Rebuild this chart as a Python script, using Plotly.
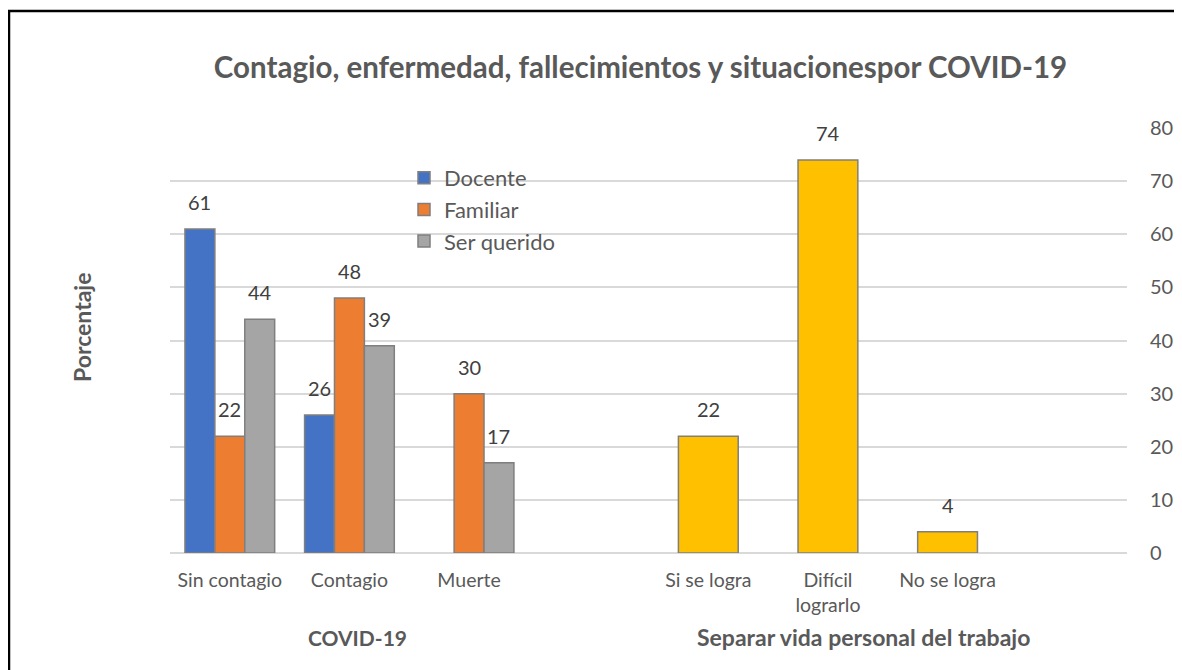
import plotly.graph_objects as go

# Data
categories = ["Sin contagio", "Contagio", "Muerte", " ", "Si se logra", "Difícil<br>lograrlo", "No se logra", "  "]
covid_cats = ["Sin contagio", "Contagio", "Muerte"]
docente = [61, 26, None]
familiar = [22, 48, 30]
ser_querido = [44, 39, 17]
separar_cats = ["Si se logra", "Difícil<br>lograrlo", "No se logra"]
separar_vals = [22, 74, 4]
y_ticks = [0, 10, 20, 30, 40, 50, 60, 70, 80]

FONT = "Lato"
TICK_COLOR = "#595959"
LABEL_COLOR = "#404040"
EDGE = dict(color="#7f7f7f", width=1.5)

# page body has an 8px margin: figure spans reference x 8..1182, y 8..670
W, H = 1174, 662
PL, PR, PT, PB = 170, 1127, 128, 553  # plot area in reference page pixels
PW, PH = PR - PL, PB - PT

def px(x):
    return (x - PL) / PW

def py(y):
    return (PB - y) / PH

fig = go.Figure()
annotations = []

def add_bar(name, x, y, color, offset, width, showlegend=True):
    fig.add_trace(go.Bar(
        name=name, x=x, y=y, offset=offset, width=width,
        marker=dict(color=color, line=EDGE),
        showlegend=showlegend,
        hoverinfo="x+y",
    ))
    for cat, v in zip(x, y):
        if v is None:
            continue
        annotations.append(dict(
            x=categories.index(cat) + offset + width / 2, y=v, xref="x", yref="y",
            text=str(v), showarrow=False, xanchor="center", yanchor="bottom",
            yshift=13, font=dict(family=FONT, size=20, color=LABEL_COLOR),
        ))

add_bar("Docente", covid_cats, docente, "#4472C4", -0.375, 0.25)
add_bar("Familiar", covid_cats, familiar, "#ED7D31", -0.125, 0.25)
add_bar("Ser querido", covid_cats, ser_querido, "#A5A5A5", 0.125, 0.25)
add_bar("Separar", separar_cats, separar_vals, "#FFC000", -0.25, 0.5, showlegend=False)

annotations += [
    dict(text="<b>Porcentaje</b>", textangle=-90, xref="paper", yref="paper",
         x=px(82), y=py(328), xanchor="center", yanchor="middle",
         showarrow=False, font=dict(family=FONT, size=23, color=TICK_COLOR)),
    dict(text="<b>COVID-19</b>", xref="paper", yref="paper",
         x=px(357), y=py(637), xanchor="center", yanchor="middle",
         showarrow=False, font=dict(family=FONT, size=21, color=TICK_COLOR)),
    dict(text="<b>Separar vida personal del trabajo</b>", xref="paper", yref="paper",
         x=px(863), y=py(637), xanchor="center", yanchor="middle",
         showarrow=False, font=dict(family=FONT, size=23, color=TICK_COLOR)),
]

fig.update_layout(
    width=W, height=H,
    barmode="overlay",
    paper_bgcolor="white", plot_bgcolor="white",
    margin=dict(l=PL - 8, r=W - (PR - 8), t=PT - 8, b=H - (PB - 8), autoexpand=False),
    font=dict(family=FONT, color=TICK_COLOR),
    title=dict(
        text="<b>Contagio, enfermedad, fallecimientos y situacionespor COVID-19</b>",
        font=dict(family=FONT, size=29.5, color=TICK_COLOR),
        xref="paper", x=px(640.5), xanchor="center",
        yref="container", y=1 - (68 - 8) / H, yanchor="middle",
    ),
    xaxis=dict(
        type="category", categoryorder="array", categoryarray=categories,
        range=[-0.5, len(categories) - 0.5],
        showgrid=False, showline=False, zeroline=False, ticks="",
        tickfont=dict(family=FONT, size=19.5, color=TICK_COLOR),
        ticklabelstandoff=13,
    ),
    yaxis=dict(
        side="right", range=[0, 80], tickvals=y_ticks,
        showgrid=True, gridcolor="#d9d9d9", gridwidth=1.5,
        zeroline=True, zerolinecolor="#d9d9d9", zerolinewidth=1.5,
        showline=False, ticks="",
        tickfont=dict(family=FONT, size=20, color=TICK_COLOR),
        ticklabelstandoff=22,
    ),
    legend=dict(
        x=px(404), y=py(157), xanchor="left", yanchor="top",
        bgcolor="rgba(0,0,0,0)",
        font=dict(family=FONT, size=22, color=TICK_COLOR),
        itemwidth=30, tracegroupgap=0,
    ),
    annotations=annotations,
    shapes=[
        dict(type="rect", xref="paper", yref="paper",
             x0=px(9), x1=1.3, y0=-0.6, y1=py(11),
             line=dict(color="black", width=2.5), fillcolor="rgba(0,0,0,0)", layer="above"),
    ],
)

fig.write_html("out.html")
